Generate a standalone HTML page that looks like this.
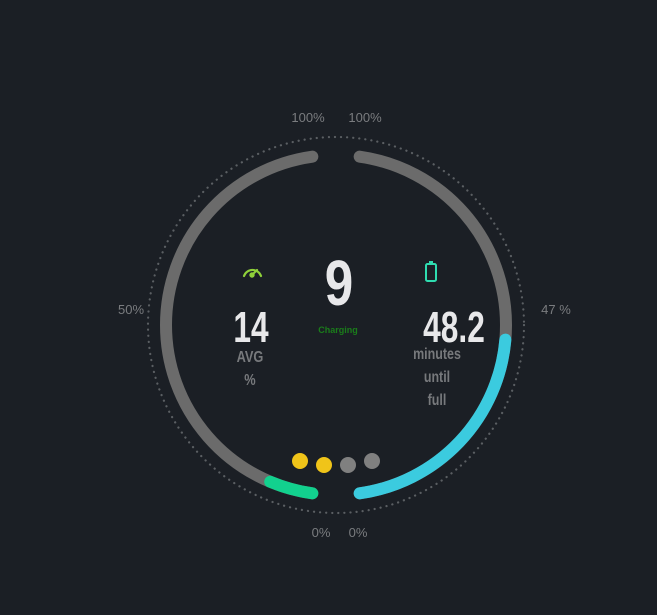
<!DOCTYPE html>
<html><head><meta charset="utf-8">
<style>
html,body{margin:0;padding:0;background:#1b1f25;}
body{width:657px;height:615px;overflow:hidden;position:relative;font-family:"Liberation Sans",sans-serif;}
.cond{font-family:"Liberation Sans Narrow","Liberation Sans",sans-serif;font-weight:bold;}
</style></head>
<body>
<svg id="chart" width="657" height="615" style="position:absolute;left:0;top:0">
<circle cx="336" cy="325" r="188" fill="none" stroke="#5b5f63" stroke-width="2.2" stroke-dasharray="0.1 6" stroke-linecap="round"/>
<g id="arcs"></g>
<g id="labels" font-family="Liberation Sans, sans-serif" font-size="13" fill="#7a7c7f"></g>
<g id="dots"></g>
<g fill="none" stroke="#8fd03a" stroke-width="2.2" stroke-linecap="round">
<path d="M244 276 A9 9 0 0 1 261 276"/><line x1="252" y1="275" x2="257" y2="270"/>
<circle cx="252" cy="275" r="1.6" fill="#8fd03a"/>
</g>
<g fill="none" stroke="#2fdcb0" stroke-width="2">
<rect x="426" y="264" width="10" height="17" rx="1.5"/><line x1="429" y1="262" x2="433" y2="262"/>
</g>
<g class="cond" text-anchor="middle">
<text x="339" y="305" font-size="64" fill="#e8e8ea" transform="translate(339 0) scale(0.8 1) translate(-339 0)">9</text>
<text x="338" y="333" font-size="9" fill="#1a7d1a">Charging</text>
<text x="251" y="342" font-size="44" fill="#e8e8ea" transform="translate(251 0) scale(0.72 1) translate(-251 0)">14</text>
<text x="250" y="362" font-size="16" fill="#77797c" transform="translate(250 0) scale(0.8 1) translate(-250 0)">AVG</text>
<text x="250" y="385" font-size="16" fill="#77797c" transform="translate(250 0) scale(0.8 1) translate(-250 0)">%</text>
<text x="454" y="342" font-size="44" fill="#e8e8ea" transform="translate(454 0) scale(0.72 1) translate(-454 0)">48.2</text>
<text x="437" y="359" font-size="16" fill="#77797c" transform="translate(437 0) scale(0.78 1) translate(-437 0)">minutes</text>
<text x="437" y="382" font-size="16" fill="#77797c" transform="translate(437 0) scale(0.78 1) translate(-437 0)">until</text>
<text x="437" y="405" font-size="16" fill="#77797c" transform="translate(437 0) scale(0.78 1) translate(-437 0)">full</text>
</g>
</svg>
<script>
const sides=["left","right"];
const values=[9,47];
const colors=["#12d18e","#3bcbdf"];
const dotColors=["#f0c419","#f0c419","#808080","#808080"];
const cx=336,cy=325,r=170,gap=8;
const ns="http://www.w3.org/2000/svg";
function pt(th,rr){const a=th*Math.PI/180;return [cx+rr*Math.sin(a),cy-rr*Math.cos(a)];}
function ang(side,p){const s=180-2*gap;return side==="left"?180+gap+s*p/100:180-gap-s*p/100;}
function arc(a1,a2,col,name){
  const [x1,y1]=pt(a1,r),[x2,y2]=pt(a2,r);
  const sweep=a2>a1?1:0;const large=Math.abs(a2-a1)>180?1:0;
  const p=document.createElementNS(ns,"path");
  p.setAttribute("d",`M${x1} ${y1} A${r} ${r} 0 ${large} ${sweep} ${x2} ${y2}`);
  p.setAttribute("fill","none");p.setAttribute("stroke",col);p.setAttribute("stroke-width","12");p.setAttribute("stroke-linecap","round");
  
  
  document.getElementById("arcs").appendChild(p);
}
sides.forEach((s,i)=>{
  arc(ang(s,0),ang(s,100),"#6b6b6b",s+"-track");
  arc(ang(s,0),ang(s,values[i]),colors[i],s+"-value-arc");
});
const lab=document.getElementById("labels");
function txt(x,y,t,anchor,name){const e=document.createElementNS(ns,"text");e.setAttribute("x",x);e.setAttribute("y",y);e.setAttribute("text-anchor",anchor);e.textContent=t;
  
  
  lab.appendChild(e);}
txt(308,122,"100%","middle","left-max-label");
txt(365,122,"100%","middle","right-max-label");
txt(321,537,"0%","middle","left-min-label");
txt(358,537,"0%","middle","right-min-label");
txt(131,314,"50%","middle","left-mid-label");
txt(556,314,values[1]+" %","middle","right-value-label");
const dg=document.getElementById("dots");
const dx=[300,324,348,372],dy=[461,465,465,461];
dotColors.forEach((c,i)=>{const e=document.createElementNS(ns,"circle");e.setAttribute("cx",dx[i]);e.setAttribute("cy",dy[i]);e.setAttribute("r","8");e.setAttribute("fill",c);
  
  
  dg.appendChild(e);});
</script>
</body></html>
